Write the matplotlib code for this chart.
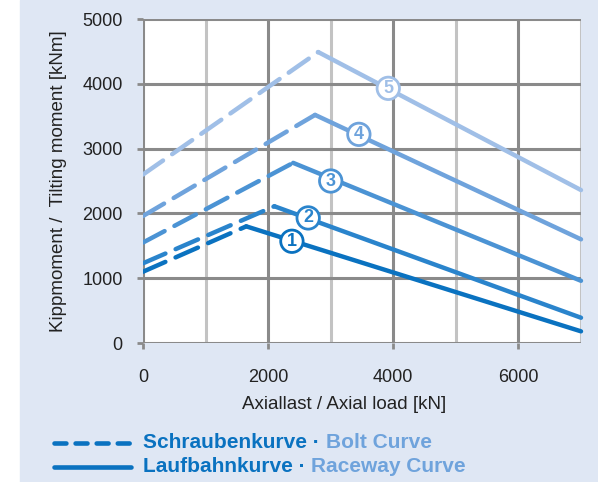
import matplotlib.pyplot as plt
from matplotlib.patches import Rectangle

# curve data (kN, kNm)
curve_ids = ['1', '2', '3', '4', '5']
start_y = [1100, 1230, 1550, 1960, 2600]
peak_x = [1650, 2100, 2400, 2750, 2800]
peak_y = [1800, 2110, 2780, 3520, 4490]
end_x = 7000
end_y = [180, 390, 960, 1600, 2360]
label_x = [2380, 2640, 3000, 3450, 3920]
label_y = [1570, 1930, 2500, 3220, 3930]
colors = ['#0a72c0', '#2a84cc', '#4b93d4', '#6fa3dc', '#a0bfe7']

x_ticks = [0, 2000, 4000, 6000]
y_ticks = [0, 1000, 2000, 3000, 4000, 5000]

plt.rcParams['font.family'] = ['Liberation Sans', 'DejaVu Sans']

fig = plt.figure(figsize=(5.98, 4.82), dpi=100)
fig.patches.append(Rectangle((20 / 598, 0), 1, 1, transform=fig.transFigure,
                             color='#dfe7f4', zorder=-10))
ax = fig.add_axes([143 / 598, 139 / 482, 438 / 598, 324 / 482])
ax.set_facecolor('white')

ax.set_xlim(0, 7000)
ax.set_ylim(0, 5000)

# grid
for gx in [1000, 3000, 5000, 7000]:
    ax.axvline(gx, color='#c3c3c3', lw=2.2, zorder=1)
for gx in [2000, 4000, 6000]:
    ax.axvline(gx, color='#8a8a8a', lw=2.2, zorder=1)
for gy in [1000, 2000, 3000, 4000, 5000]:
    ax.axhline(gy, color='#8a8a8a', lw=2.2, zorder=1)
for s in ax.spines.values():
    s.set_visible(False)
ax.axvline(0, color='#8a8a8a', lw=2.2, zorder=1)
ax.axhline(0, color='#8a8a8a', lw=2.2, zorder=1)

ax.set_xticks(x_ticks)
ax.set_yticks(y_ticks)
ax.tick_params(axis='both', colors='#8a8a8a', width=2, length=4.5,
               labelcolor='#222222', labelsize=13)
ax.tick_params(axis='x', pad=14)
ax.tick_params(axis='y', pad=10)

for i in range(5):
    ax.plot([0, peak_x[i]], [start_y[i], peak_y[i]], color=colors[i], lw=3.2,
            dashes=(5.5, 2.5), dash_capstyle='round', zorder=3)
    ax.plot([peak_x[i], end_x], [peak_y[i], end_y[i]], color=colors[i], lw=3.2,
            solid_capstyle='round', solid_joinstyle='round', zorder=3, clip_on=False)
    ax.text(label_x[i], label_y[i], curve_ids[i], color=colors[i], fontsize=13,
            fontweight='bold', ha='center', va='center', zorder=5,
            bbox=dict(boxstyle='circle,pad=0.15', fc='white', ec=colors[i], lw=2))

ax.set_xlabel('Axiallast / Axial load [kN]', fontsize=13.5, color='#222222')
ax.xaxis.set_label_coords(0.459, -0.165)
ax.set_ylabel('Kippmoment /  Tilting moment [kNm]', fontsize=13.5, color='#222222',
              labelpad=11)

# legend below
fig.add_artist(plt.Line2D([54 / 598, 131 / 598], [1 - 443 / 482, 1 - 443 / 482],
                          color='#0a72c0', lw=3.3, dashes=(2.6, 2.0),
                          dash_capstyle='round', transform=fig.transFigure))
fig.add_artist(plt.Line2D([54 / 598, 131 / 598], [1 - 467 / 482, 1 - 467 / 482],
                          color='#0a72c0', lw=3.3, solid_capstyle='round',
                          transform=fig.transFigure))

fig.canvas.draw()
renderer = fig.canvas.get_renderer()
for ypx, main, second in [(443, 'Schraubenkurve · ', 'Bolt Curve'),
                          (467, 'Laufbahnkurve · ', 'Raceway Curve')]:
    t = fig.text(143 / 598, 1 - ypx / 482, main, color='#0a72c0', fontsize=15,
                 fontweight='bold', va='center')
    bb = t.get_window_extent(renderer)
    fig.text(bb.x1 / fig.bbox.width, 1 - ypx / 482, second, color='#6fa3dc',
             fontsize=15, fontweight='bold', va='center')

fig.savefig('out.png', dpi=100)
